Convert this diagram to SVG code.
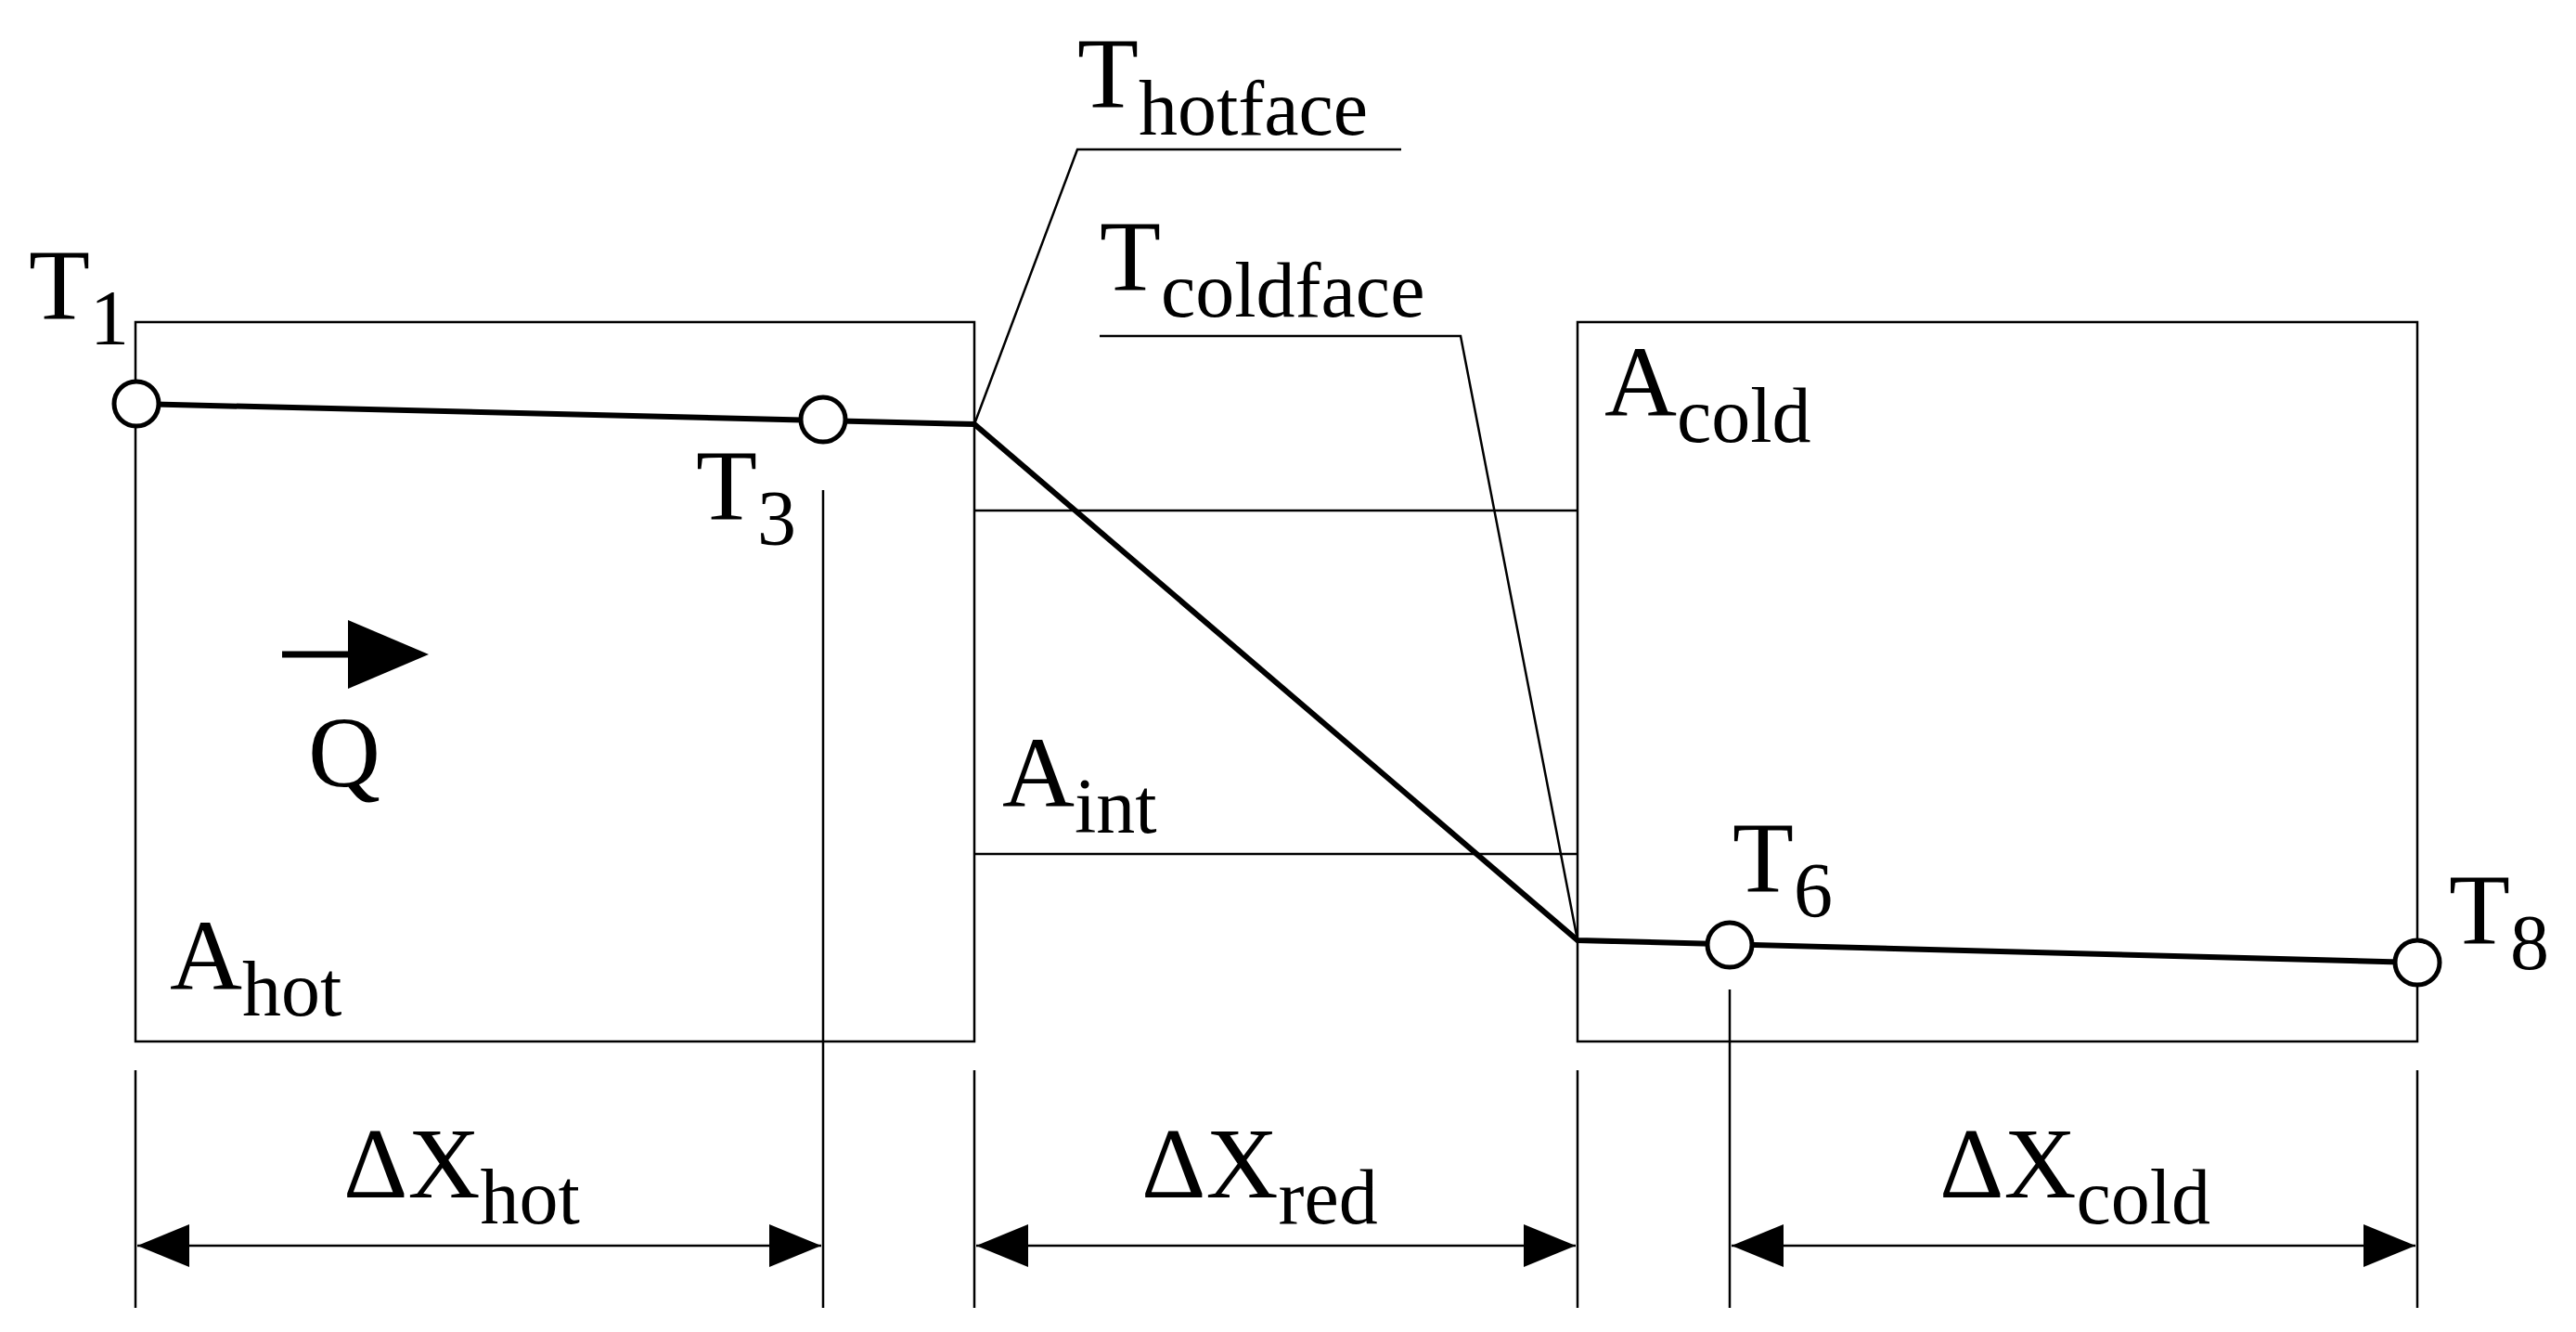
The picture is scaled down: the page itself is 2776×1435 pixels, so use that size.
<svg xmlns="http://www.w3.org/2000/svg" width="2776" height="1435" viewBox="0 0 2776 1435">
<style>
.t{font-family:"Liberation Serif",serif;font-size:108px;fill:#000}
.s{font-size:84px}
.thin{stroke:#000;stroke-width:2.5;fill:none}
.thick{stroke:#000;stroke-width:6;fill:none}
.c{stroke:#000;stroke-width:5;fill:#fff}
</style>
<defs>
<marker id="ah" markerWidth="56" markerHeight="46" refX="56" refY="23" orient="auto-start-reverse" markerUnits="userSpaceOnUse"><path d="M0,0 L56,23 L0,46 Z" fill="#000"/></marker>
</defs>
<rect width="2776" height="1435" fill="#fff"/>
<g id="hot"><rect class="thin" x="146" y="347" width="904" height="775"/>
<text class="t" x="183" y="1066">A<tspan class="s" dy="28">hot</tspan></text></g>
<g id="cold"><rect class="thin" x="1700" y="347" width="905" height="775"/>
<text class="t" x="1729" y="448">A<tspan class="s" dy="28">cold</tspan></text></g>
<g id="int"><line class="thin" x1="1050" y1="550" x2="1700" y2="550"/><line class="thin" x1="1050" y1="920" x2="1700" y2="920"/>
<text class="t" x="1080" y="869">A<tspan class="s" dy="28">int</tspan></text></g>
<g id="connectors">
<polyline class="thick" points="147,435 1050,457 1700,1013 2605,1037"/>
<polyline class="thin" points="1050,457 1161,161 1510,161"/>
<polyline class="thin" points="1185,362 1574,362 1700,1013"/>
<line class="thin" x1="887" y1="528" x2="887" y2="1409"/>
<line class="thin" x1="1864" y1="1066" x2="1864" y2="1409"/>
<line class="thin" x1="146" y1="1153" x2="146" y2="1409"/>
<line class="thin" x1="1050" y1="1153" x2="1050" y2="1409"/>
<line class="thin" x1="1700" y1="1153" x2="1700" y2="1409"/>
<line class="thin" x1="2605" y1="1153" x2="2605" y2="1409"/>
<line class="thin" x1="148" y1="1342" x2="885" y2="1342" marker-start="url(#ah)" marker-end="url(#ah)"/>
<line class="thin" x1="1052" y1="1342" x2="1698" y2="1342" marker-start="url(#ah)" marker-end="url(#ah)"/>
<line class="thin" x1="1866" y1="1342" x2="2603" y2="1342" marker-start="url(#ah)" marker-end="url(#ah)"/>
<line stroke="#000" stroke-width="7" x1="304" y1="705" x2="400" y2="705"/>
<path d="M375,668 L462,705 L375,742 Z" fill="#000"/>
</g>
<g id="T1"><circle class="c" cx="147" cy="435" r="24"/><text class="t" x="31" y="343">T<tspan class="s" dy="28">1</tspan></text></g>
<g id="T3"><circle class="c" cx="887" cy="452" r="24"/><text class="t" x="750" y="559">T<tspan class="s" dy="28">3</tspan></text></g>
<g id="T6"><circle class="c" cx="1864" cy="1018" r="24"/><text class="t" x="1867" y="960">T<tspan class="s" dy="28">6</tspan></text></g>
<g id="T8"><circle class="c" cx="2605" cy="1037" r="24"/><text class="t" x="2639" y="1016">T<tspan class="s" dy="28">8</tspan></text></g>
<g id="Q"><text class="t" x="332" y="847">Q</text></g>
<g id="hotface"><text class="t" x="1161" y="115">T<tspan class="s" dy="30">hotface</tspan></text></g>
<g id="coldface"><text class="t" x="1185" y="312">T<tspan class="s" dy="29">coldface</tspan></text></g>
<g id="dx"><text class="t" x="370" y="1290">ΔX<tspan class="s" dy="28">hot</tspan></text>
<text class="t" x="1230" y="1290">ΔX<tspan class="s" dy="28">red</tspan></text>
<text class="t" x="2090" y="1290">ΔX<tspan class="s" dy="28">cold</tspan></text></g>
</svg>
